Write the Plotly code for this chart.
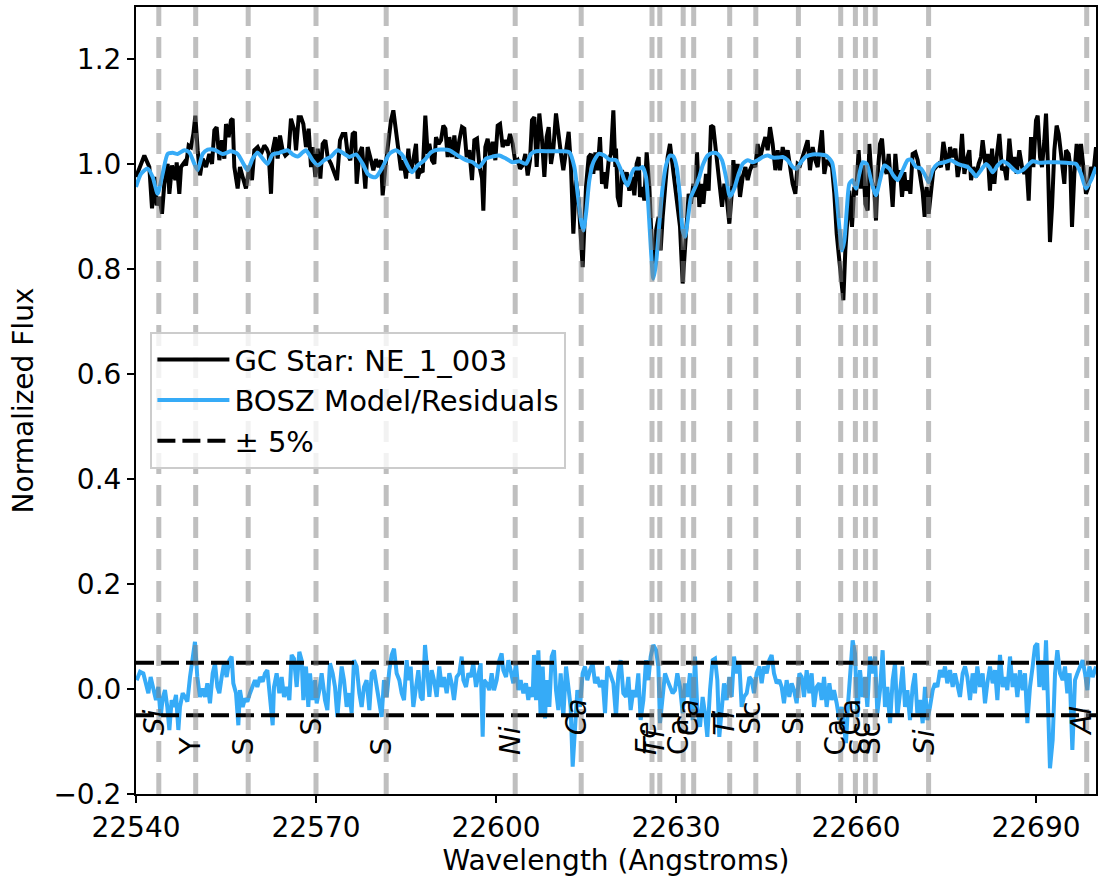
import plotly.graph_objects as go

# ---------------- data ----------------
star_wave = [
    22540.00, 22541.39, 22542.22, 22542.67, 22543.06, 22543.44, 22543.89, 22544.33, 22544.72, 22545.28,
    22545.56, 22546.00, 22546.56, 22546.78, 22547.22, 22547.50, 22548.06, 22548.33, 22548.78, 22549.17,
    22549.56, 22549.89, 22550.28, 22550.67, 22551.11, 22551.67, 22552.22, 22552.67, 22553.06, 22553.44,
    22553.89, 22554.33, 22554.72, 22555.00, 22555.44, 22555.83, 22556.11, 22556.39, 22556.94, 22557.33,
    22557.78, 22558.33, 22558.89, 22559.33, 22559.72, 22560.28, 22560.83, 22561.39, 22561.78, 22562.11,
    22562.50, 22562.78, 22563.22, 22563.61, 22564.00, 22564.44, 22564.89, 22565.44, 22565.83, 22566.39,
    22566.67, 22567.11, 22567.50, 22567.89, 22568.33, 22568.78, 22569.17, 22569.44, 22569.89, 22570.28,
    22570.72, 22571.11, 22571.56, 22571.94, 22572.50, 22573.06, 22573.50, 22574.00, 22574.44, 22574.89,
    22575.28, 22575.72, 22576.11, 22576.50, 22576.78, 22577.22, 22577.67, 22578.22, 22578.61, 22579.17,
    22579.56,
    22580.00, 22580.44, 22580.83, 22581.11, 22581.56, 22582.11, 22582.50, 22582.89, 22583.33, 22583.78,
    22584.17, 22584.56, 22585.00, 22585.39, 22585.72, 22586.11, 22586.39, 22586.67, 22586.94, 22587.33,
    22587.78, 22588.22, 22588.61, 22588.89, 22589.33, 22589.72, 22590.00, 22590.44, 22590.83, 22591.22,
    22591.56, 22591.94, 22592.22, 22592.67, 22593.06, 22593.44, 22593.89, 22594.33, 22594.72, 22595.11,
    22595.56, 22596.00, 22596.39, 22596.83, 22597.22, 22597.67, 22597.89, 22598.22, 22598.61, 22599.00,
    22599.44, 22599.89, 22600.28, 22600.67, 22601.11, 22601.56, 22601.94, 22602.33, 22602.78, 22603.22,
    22603.61, 22604.00, 22604.44, 22604.89, 22605.28, 22605.67, 22606.00, 22606.39, 22606.78, 22607.22,
    22607.67, 22608.06, 22608.44, 22608.78, 22609.17, 22609.56, 22610.00, 22610.44, 22610.83, 22611.22,
    22611.67, 22612.11, 22612.50, 22612.89, 22613.33, 22613.78, 22614.17, 22614.44, 22614.72, 22615.00,
    22615.44, 22615.83, 22616.22, 22616.56, 22616.94, 22617.33, 22617.67, 22618.06, 22618.33, 22618.78,
    22619.17, 22619.56, 22619.89,
    22620.00, 22620.28, 22620.67, 22621.00, 22621.39, 22621.78, 22622.22, 22622.67, 22623.06, 22623.44,
    22623.78, 22624.00, 22624.44, 22624.72, 22625.11, 22625.56, 22625.83, 22626.11, 22626.39, 22626.67,
    22627.11, 22627.44, 22627.78, 22628.22, 22628.61, 22629.00, 22629.44, 22629.89, 22630.28, 22630.67,
    22631.11, 22631.39, 22631.78, 22632.11, 22632.50, 22632.89, 22633.22, 22633.50, 22633.89, 22634.33,
    22634.56, 22635.00, 22635.44, 22635.83, 22636.22, 22636.56, 22636.94, 22637.33, 22637.67, 22638.06,
    22638.44, 22638.89, 22639.33, 22639.56, 22639.89, 22640.28, 22640.67, 22641.11, 22641.56, 22641.94,
    22642.33, 22642.78, 22643.22, 22643.61, 22644.00, 22644.44, 22644.89, 22645.28, 22645.67, 22646.11,
    22646.56, 22646.94, 22647.33, 22647.78, 22648.22, 22648.61, 22649.00, 22649.44, 22649.89, 22650.28,
    22650.67, 22651.11, 22651.56, 22651.94, 22652.33, 22652.78, 22653.22, 22653.61, 22654.00, 22654.33,
    22654.72, 22655.11, 22655.56, 22656.00, 22656.39, 22656.78, 22657.22, 22657.56, 22657.89, 22658.22,
    22658.61, 22658.89, 22659.33, 22659.72,
    22660.00, 22660.44, 22660.83, 22661.22, 22661.56, 22661.94, 22662.22, 22662.61, 22663.06, 22663.33,
    22663.61, 22664.00, 22664.33, 22664.72, 22665.11, 22665.44, 22665.83, 22666.11, 22666.56, 22666.94,
    22667.33, 22667.67, 22668.06, 22668.33, 22668.78, 22669.06, 22669.44, 22669.89, 22670.28, 22670.67,
    22671.11, 22671.44, 22671.78, 22672.11, 22672.50, 22672.89, 22673.33, 22673.78, 22674.17, 22674.56,
    22674.89, 22675.28, 22675.67, 22676.11, 22676.56, 22676.94, 22677.33, 22677.67, 22678.06, 22678.44,
    22678.89, 22679.17, 22679.56, 22680.00, 22680.44, 22680.83, 22681.11, 22681.56, 22681.94, 22682.33,
    22682.67, 22683.06, 22683.44, 22683.89, 22684.33, 22684.72, 22685.11, 22685.56, 22686.00, 22686.39,
    22686.78, 22687.22, 22687.67, 22688.06, 22688.44, 22688.78, 22689.17, 22689.56, 22690.00, 22690.28,
    22690.67, 22691.00, 22691.39, 22691.67, 22692.00, 22692.33, 22692.67, 22693.06, 22693.44, 22693.78,
    22694.17, 22694.44, 22694.72, 22695.00, 22695.44, 22695.72, 22696.00, 22696.39, 22696.78, 22697.11,
    22697.50, 22697.89, 22698.33, 22698.72, 22699.17, 22699.56, 22700.00,
]
star_flux = [
    0.976, 1.017, 0.995, 0.916, 0.976, 0.922, 0.938, 0.906, 0.963, 1.001,
    0.944, 0.998, 0.970, 1.004, 0.944, 0.995, 1.004, 0.998, 1.036, 1.033,
    1.058, 1.093, 1.027, 0.979, 1.011, 0.995, 1.020, 1.001, 1.065, 1.071,
    1.008, 1.046, 1.011, 1.077, 1.052, 1.084, 1.087, 0.995, 0.954, 0.995,
    0.976, 0.954, 0.995, 0.970, 1.027, 1.033, 1.020, 1.036, 1.030, 1.020,
    0.944, 1.027, 1.052, 1.011, 1.055, 1.027, 1.017, 1.023, 1.087, 1.065,
    1.027, 1.090, 1.090, 1.077, 1.033, 1.068, 0.995, 1.033, 0.976, 1.030,
    0.973, 1.039, 1.046, 1.014, 1.001, 0.982, 0.970, 1.046, 1.058, 1.058,
    1.020, 1.008, 1.058, 1.062, 0.963, 1.020, 1.033, 0.954, 1.033, 1.008,
    0.989,
    1.010, 0.995, 1.008, 0.941, 0.995, 1.046, 1.084, 1.103, 1.058, 1.027,
    0.989, 1.008, 0.973, 1.030, 0.985, 1.001, 1.020, 1.039, 0.973, 0.989,
    0.985, 1.093, 1.020, 1.039, 1.008, 1.001, 1.052, 1.039, 1.046, 1.074,
    1.068, 1.014, 1.052, 1.014, 1.055, 1.011, 1.046, 1.071, 1.068, 1.014,
    1.027, 0.970, 1.046, 1.049, 0.998, 0.973, 0.912, 1.033, 1.049, 1.014,
    1.043, 1.008, 1.074, 1.077, 1.033, 1.046, 1.036, 1.058, 1.039, 1.004,
    1.008, 0.992, 0.998, 1.020, 0.979, 1.008, 1.084, 1.090, 0.995, 1.097,
    1.046, 0.976, 1.052, 1.071, 1.001, 1.030, 1.097, 1.046, 1.020, 0.989,
    1.027, 1.062, 0.995, 0.868, 0.970, 0.931, 0.855, 0.804, 0.881, 0.957,
    1.014, 1.020, 0.982, 1.023, 0.989, 1.052, 0.963, 0.985, 0.954, 1.008,
    1.020, 1.103, 0.995,
    1.030, 0.938, 0.919, 0.989, 0.963, 0.985, 0.950, 0.976, 0.941, 1.001,
    1.014, 0.938, 0.957, 0.931, 1.023, 0.957, 0.855, 0.804, 0.823, 0.874,
    0.900, 0.836, 0.900, 0.970, 1.014, 1.039, 0.995, 0.957, 0.925, 0.881,
    0.773, 0.823, 0.874, 0.944, 0.925, 0.963, 0.938, 1.023, 0.919, 0.963,
    0.925, 0.982, 0.950, 1.074, 1.071, 1.039, 0.995, 0.963, 0.919, 0.963,
    0.938, 0.887, 0.950, 1.008, 0.963, 1.001, 0.938, 0.976, 0.995, 0.970,
    0.989, 1.001, 0.995, 1.039, 1.011, 1.033, 1.052, 1.027, 1.071, 1.039,
    0.989, 1.027, 0.989, 1.033, 1.011, 1.027, 0.995, 0.963, 0.944, 1.001,
    0.998, 1.014, 1.027, 1.046, 0.989, 1.033, 1.008, 0.995, 1.033, 1.065,
    0.982, 1.008, 1.001, 0.995, 0.944, 0.868, 0.817, 0.766, 0.741, 0.836,
    0.912, 0.950, 0.881, 0.957,
    0.941, 1.027, 0.954, 0.998, 0.925, 0.912, 1.039, 0.970, 0.950, 0.893,
    0.982, 1.039, 1.049, 0.995, 0.982, 1.020, 0.963, 0.919, 1.020, 0.970,
    0.989, 0.938, 0.985, 0.950, 0.970, 0.944, 1.020, 1.023, 1.008, 0.982,
    0.947, 0.900, 0.957, 0.906, 0.954, 0.989, 0.995, 1.001, 0.995, 1.043,
    1.020, 0.989, 1.033, 1.014, 1.030, 0.976, 1.001, 1.058, 0.982, 1.008,
    1.027, 0.970, 0.995, 0.976, 1.001, 1.014, 1.046, 1.001, 1.020, 0.950,
    1.030, 0.963, 1.014, 1.058, 0.989, 0.995, 0.970, 1.049, 0.995, 1.014,
    0.982, 1.027, 0.995, 0.982, 0.995, 0.931, 1.052, 0.995, 1.084, 1.093,
    1.014, 0.995, 1.046, 1.097, 0.995, 0.852, 0.919, 1.027, 1.074, 1.058,
    1.020, 0.995, 0.963, 1.027, 1.020, 0.995, 0.881, 0.982, 1.039, 0.995,
    1.039, 0.995, 0.944, 0.957, 0.995, 0.982, 1.033,
]

model_wave = [
    22540.00, 22540.83, 22541.94, 22542.78, 22543.61, 22544.44, 22545.28, 22546.11, 22546.94, 22548.06,
    22548.89, 22549.72, 22550.28, 22551.11, 22551.94, 22553.06, 22554.44, 22555.83, 22556.94, 22558.06,
    22558.61, 22559.44, 22560.28, 22561.11, 22561.94, 22562.78, 22563.89, 22565.28, 22566.11, 22566.94,
    22567.78, 22568.33, 22569.44, 22570.28, 22571.39, 22572.50, 22573.61, 22574.72, 22575.56, 22576.67,
    22577.78, 22578.61, 22579.44,
    22580.00, 22581.11, 22582.22, 22583.33, 22584.44, 22585.28, 22586.00, 22586.94, 22588.06, 22589.17,
    22590.28, 22592.22, 22593.61, 22595.00, 22596.11, 22597.22, 22598.33, 22599.44, 22600.56, 22601.67,
    22602.78, 22603.89, 22605.00, 22605.83, 22606.67, 22608.89, 22611.11, 22612.22, 22613.06, 22613.61,
    22614.17, 22614.56, 22615.00, 22615.56, 22616.22, 22617.11, 22618.06, 22618.89,
    22620.00, 22620.83, 22621.39, 22621.94, 22622.50, 22623.06, 22623.89, 22624.44, 22625.00, 22625.44,
    22625.83, 22626.22, 22626.67, 22627.22, 22627.78, 22628.33, 22629.00, 22629.56, 22630.11, 22630.67,
    22631.11, 22631.50, 22631.94, 22632.50, 22633.22, 22633.89, 22634.44, 22635.28, 22636.11, 22636.94,
    22637.67, 22638.33, 22639.00, 22639.72, 22640.44, 22641.11, 22641.94, 22642.78, 22643.61, 22644.44,
    22645.28, 22646.11, 22646.94, 22647.78, 22648.61, 22649.44, 22650.11, 22650.83, 22651.67, 22652.78,
    22653.89, 22655.00, 22656.00, 22656.67, 22657.22, 22657.67, 22658.06, 22658.50, 22658.89, 22659.44,
    22660.00, 22660.56, 22661.11, 22661.78, 22662.50, 22663.33, 22664.00, 22664.72, 22665.56, 22666.22,
    22666.94, 22667.78, 22668.61, 22669.17, 22670.00, 22670.83, 22671.67, 22672.11, 22672.78, 22673.61,
    22674.72, 22675.83, 22676.94, 22677.78, 22678.61, 22679.44, 22680.00, 22680.83, 22681.67, 22682.22,
    22682.78, 22683.61, 22684.44, 22685.28, 22686.11, 22686.94, 22687.78, 22688.61, 22689.44, 22690.56,
    22691.94, 22693.33, 22695.00, 22696.67, 22697.50, 22698.33, 22699.17, 22700.00,
]
model_flux = [
    0.957, 0.982, 0.992, 0.976, 0.944, 0.982, 1.020, 1.022, 1.020, 1.027,
    1.023, 1.001, 0.989, 1.020, 1.028, 1.028, 1.020, 1.025, 1.020, 0.998,
    0.989, 1.011, 1.022, 1.011, 1.001, 1.019, 1.022, 1.027, 1.019, 1.015,
    1.023, 1.027, 1.008, 0.998, 1.008, 1.015, 1.027, 1.020, 1.014, 1.019,
    1.001, 0.982, 0.976,
    0.976, 0.995, 1.020, 1.027, 1.017, 0.998, 0.985, 0.998, 1.008, 1.023,
    1.028, 1.027, 1.017, 1.008, 1.004, 0.995, 1.011, 1.015, 1.017, 1.011,
    1.004, 1.006, 1.001, 1.020, 1.025, 1.025, 1.025, 1.023, 0.995, 0.944,
    0.893, 0.874, 0.906, 0.970, 1.004, 1.020, 1.017, 1.009,
    1.008, 0.989, 0.970, 0.960, 0.979, 0.992, 0.992, 0.995, 0.976, 0.912,
    0.836, 0.782, 0.811, 0.887, 0.957, 0.998, 1.017, 1.015, 0.995, 0.938,
    0.874, 0.862, 0.893, 0.938, 0.957, 0.976, 0.998, 1.017, 1.022, 1.020,
    1.008, 0.976, 0.938, 0.954, 0.982, 1.001, 1.008, 1.004, 1.008, 1.014,
    1.017, 1.013, 1.013, 1.014, 1.008, 0.995, 0.992, 1.004, 1.015, 1.019,
    1.019, 1.017, 1.004, 0.950, 0.881, 0.836, 0.855, 0.919, 0.963, 0.970,
    0.954, 0.982, 1.004, 1.001, 0.970, 0.941, 0.970, 0.998, 0.992, 0.979,
    0.970, 0.989, 1.008, 1.009, 0.995, 0.992, 0.976, 0.966, 0.989, 1.001,
    1.004, 1.008, 1.001, 0.998, 0.995, 0.985, 0.977, 0.989, 1.001, 0.995,
    0.985, 0.998, 1.006, 1.001, 0.992, 0.985, 0.989, 0.998, 1.006, 1.003,
    1.004, 1.004, 1.003, 1.001, 0.982, 0.954, 0.970, 0.995,
]

resid_wave = [
    22540.11, 22540.67, 22541.22, 22541.78, 22542.06, 22542.44, 22542.89, 22543.33, 22543.72, 22544.11,
    22544.44, 22544.83, 22545.22, 22545.56, 22545.94, 22546.22, 22546.67, 22547.06, 22547.33, 22547.78,
    22548.17, 22548.56, 22549.00, 22549.44, 22549.83, 22550.22, 22550.67, 22551.11, 22551.50, 22551.89,
    22552.33, 22552.78, 22553.17, 22553.56, 22553.89, 22554.28, 22554.67, 22555.11, 22555.56, 22555.94,
    22556.22, 22556.67, 22557.06, 22557.33, 22557.78, 22558.17, 22558.56, 22559.00, 22559.44, 22559.83,
    22560.22, 22560.67, 22561.11, 22561.50, 22561.89, 22562.33, 22562.78, 22563.00, 22563.44, 22563.89,
    22564.28, 22564.67, 22565.11, 22565.56, 22565.94, 22566.33, 22566.78, 22567.22, 22567.61, 22567.89,
    22568.33, 22568.72, 22569.00, 22569.44, 22569.83, 22570.11, 22570.56, 22570.94, 22571.50, 22571.89,
    22572.33, 22572.78, 22573.17, 22573.56, 22573.89, 22574.28, 22574.67, 22575.11, 22575.56, 22575.94,
    22576.33, 22576.78, 22577.22, 22577.61, 22578.00, 22578.44, 22578.89, 22579.28, 22579.67, 22580.11,
    22580.56, 22580.94, 22581.33, 22581.78, 22582.22, 22582.61, 22583.00, 22583.44, 22583.89, 22584.28,
    22584.67, 22585.11, 22585.39, 22585.78, 22586.22, 22586.67, 22587.06, 22587.44, 22587.78, 22588.17,
    22588.56, 22588.89, 22589.28, 22589.67, 22590.11, 22590.56, 22590.94, 22591.33, 22591.78, 22592.22,
    22592.61, 22593.00, 22593.44, 22593.89, 22594.28, 22594.56, 22595.00, 22595.39, 22595.78, 22596.22,
    22596.67, 22597.06, 22597.44, 22597.78, 22598.00, 22598.44, 22598.89, 22599.28, 22599.67, 22600.11,
    22600.56, 22600.94, 22601.22, 22601.67, 22602.06, 22602.44, 22602.89, 22603.33, 22603.72, 22604.11,
    22604.56, 22605.00, 22605.39, 22605.67, 22606.11, 22606.33, 22606.67, 22607.06, 22607.44, 22607.78,
    22608.17, 22608.44, 22608.89, 22609.28, 22609.67, 22610.00, 22610.39, 22610.78, 22611.22, 22611.67,
    22612.06, 22612.44, 22612.78, 22613.17, 22613.56, 22614.00, 22614.44, 22614.83, 22615.22, 22615.67,
    22616.11, 22616.50, 22616.89, 22617.33, 22617.78, 22618.17, 22618.56, 22619.00,
    22619.56, 22620.00, 22620.39, 22620.78, 22621.22, 22621.67, 22622.06, 22622.44, 22622.89, 22623.33,
    22623.72, 22624.11, 22624.56, 22625.00, 22625.39, 22625.78, 22626.22, 22626.67, 22627.06, 22627.33,
    22627.78, 22628.17, 22628.56, 22629.00, 22629.44, 22629.83, 22630.22, 22630.67, 22631.11, 22631.50,
    22631.89, 22632.33, 22632.78, 22633.17, 22633.56, 22634.00, 22634.44, 22634.83, 22635.22, 22635.67,
    22636.11, 22636.50, 22636.89, 22637.22, 22637.61, 22638.00, 22638.44, 22638.89, 22639.28, 22639.67,
    22640.11, 22640.56, 22640.94, 22641.33, 22641.78, 22642.22, 22642.61, 22643.00, 22643.44, 22643.89,
    22644.28, 22644.67, 22645.11, 22645.56, 22645.94, 22646.33, 22646.78, 22647.22, 22647.61, 22648.00,
    22648.44, 22648.89, 22649.28, 22649.67, 22650.11, 22650.56, 22650.94, 22651.33, 22651.78, 22652.22,
    22652.61, 22653.00, 22653.44, 22653.89, 22654.28, 22654.67, 22655.11, 22655.56, 22655.94, 22656.33,
    22656.78, 22657.22, 22657.61, 22658.00, 22658.33, 22658.72, 22659.11, 22659.44, 22659.83, 22660.22,
    22660.67, 22661.11, 22661.50, 22661.89, 22662.33, 22662.78, 22663.17, 22663.56, 22664.00, 22664.44,
    22664.83, 22665.22, 22665.67, 22666.11, 22666.50, 22666.89, 22667.33, 22667.78, 22668.17, 22668.56,
    22669.00, 22669.44, 22669.83, 22670.22, 22670.67, 22671.11, 22671.50, 22671.89, 22672.33, 22672.78,
    22673.17, 22673.56, 22674.00, 22674.44, 22674.83, 22675.22, 22675.67, 22676.11, 22676.50, 22676.89,
    22677.33, 22677.78, 22678.17, 22678.56, 22679.00, 22679.44, 22679.83, 22680.22, 22680.67, 22681.11,
    22681.50, 22681.89, 22682.33, 22682.78, 22683.17, 22683.56, 22684.00, 22684.44, 22684.83, 22685.22,
    22685.67, 22686.11, 22686.50, 22686.89, 22687.33, 22687.78, 22688.17, 22688.56, 22689.00, 22689.44,
    22689.83, 22690.22, 22690.56, 22690.94, 22691.33, 22691.67, 22692.06, 22692.33, 22692.78, 22693.17,
    22693.56, 22694.00, 22694.44, 22694.83, 22695.22, 22695.61, 22696.06, 22696.50, 22696.89, 22697.33,
    22697.78, 22698.17, 22698.56, 22698.89, 22699.44, 22699.83, 22700.00,
]
resid_vals = [
    0.017, 0.033, 0.030, 0.004, -0.008, 0.023, -0.002, -0.021, 0.004, -0.053,
    -0.018, -0.002, -0.034, -0.078, -0.021, -0.034, -0.011, -0.078, -0.034, -0.008,
    -0.015, -0.024, 0.023, 0.055, 0.090, 0.023, -0.015, 0.001, -0.015, 0.011,
    -0.027, 0.030, 0.049, 0.004, -0.008, 0.023, 0.049, 0.023, 0.055, 0.062,
    0.011, -0.008, -0.069, -0.002, -0.034, -0.018, -0.024, -0.008, 0.004, 0.017,
    0.004, 0.023, 0.014, 0.030, 0.036, -0.008, -0.069, 0.004, 0.030, -0.008,
    0.023, -0.015, 0.004, -0.021, 0.065, 0.058, 0.004, 0.071, 0.055, -0.021,
    0.043, -0.034, 0.030, -0.021, 0.017, -0.027, -0.002, 0.030, -0.021, -0.040,
    0.049, 0.030, 0.004, -0.053, -0.002, 0.043, 0.017, -0.034, -0.008, -0.046,
    0.055, 0.043, -0.008, -0.034, 0.004, 0.017, -0.040, 0.030, 0.036, 0.004,
    -0.034, -0.053, 0.017, -0.015, 0.036, 0.065, 0.077, 0.030, 0.017, -0.008,
    -0.021, 0.055, 0.017, 0.043, -0.034, 0.004, 0.036, -0.015, -0.021, 0.084,
    0.030, -0.015, 0.036, 0.017, -0.015, 0.043, 0.004, 0.023, -0.008, 0.030,
    0.011, -0.021, 0.023, 0.030, 0.062, 0.017, 0.004, 0.030, 0.023, 0.049,
    0.004, 0.030, 0.049, -0.091, 0.017, 0.011, -0.002, 0.030, -0.002, 0.017,
    0.055, 0.068, 0.036, 0.023, 0.055, 0.036, 0.011, 0.049, -0.002, 0.017,
    -0.008, 0.011, -0.021, 0.004, -0.015, 0.065, -0.021, 0.074, -0.053, 0.043,
    -0.056, 0.017, -0.034, 0.062, 0.074, -0.002, -0.040, 0.030, -0.053, 0.043,
    -0.002, -0.034, -0.148, -0.065, -0.002, -0.034, 0.030, 0.043, 0.017, 0.036,
    0.049, 0.011, 0.023, 0.004, 0.017, -0.046, 0.043, 0.030,
    0.011, -0.053, 0.030, 0.055, -0.008, -0.015, 0.023, -0.040, -0.002, -0.015,
    0.030, -0.059, -0.021, 0.055, 0.017, 0.062, 0.084, 0.074, 0.043, -0.065,
    -0.021, 0.030, 0.017, 0.004, -0.008, -0.002, 0.030, 0.004, -0.046, 0.011,
    -0.015, 0.030, -0.059, 0.062, -0.040, -0.072, -0.015, -0.046, -0.091, -0.002,
    0.055, 0.058, 0.017, -0.091, -0.034, 0.011, -0.021, 0.023, -0.015, 0.062,
    0.030, 0.049, -0.034, -0.015, -0.008, 0.023, 0.017, -0.008, 0.030, 0.043,
    0.011, 0.043, 0.030, 0.055, 0.065, 0.030, 0.011, 0.017, 0.004, -0.027,
    0.017, -0.015, 0.011, -0.002, -0.027, 0.030, 0.023, -0.015, 0.036, -0.008,
    0.030, -0.034, 0.004, 0.011, -0.021, 0.023, -0.034, 0.011, -0.021, -0.002,
    -0.027, -0.059, -0.034, -0.078, -0.103, -0.021, 0.055, 0.093, 0.068, -0.053,
    0.036, -0.015, 0.023, -0.034, 0.062, 0.030, 0.062, -0.046, -0.002, 0.074,
    -0.034, 0.004, -0.065, 0.017, 0.049, -0.053, -0.008, 0.043, -0.034, -0.002,
    -0.059, 0.004, 0.030, -0.046, -0.021, -0.065, 0.004, -0.059, -0.034, -0.002,
    0.011, 0.004, 0.036, 0.023, 0.043, 0.011, 0.036, 0.004, 0.030, 0.011,
    -0.015, 0.030, 0.043, 0.023, -0.021, 0.030, -0.008, 0.043, 0.004, 0.030,
    -0.027, 0.011, 0.043, 0.011, 0.036, -0.021, 0.065, 0.004, 0.023, -0.002,
    0.062, 0.004, 0.030, -0.015, 0.036, -0.002, 0.030, -0.065, 0.004, 0.043,
    0.081, 0.087, 0.004, 0.055, -0.002, 0.093, -0.084, -0.151, -0.097, 0.030,
    0.074, 0.030, 0.017, 0.043, -0.008, 0.030, -0.116, 0.017, 0.030, 0.043,
    0.055, 0.030, -0.002, 0.043, 0.023, 0.036, 0.043,
]

band_limits = [0.05, -0.05]

line_waves = [22543.8, 22549.95, 22558.7, 22570.0, 22581.7, 22603.2, 22614.2, 22626.0, 22627.3, 22631.2,
              22632.95, 22638.95, 22643.3, 22650.4, 22657.45, 22659.9, 22661.6, 22663.2, 22672.1, 22698.45]
line_labels = ["Si", "Y", "S", "S", "S", "Ni", "Ca", "Fe", "Ti", "Ca",
               "Ca", "Ti", "Sc", "S", "Ca", "Ca", "Sc", "Sc", "Si", "Al"]
line_italic = [True, False, False, False, False, True, True, True, True, False,
               True, True, False, False, False, False, False, False, True, True]
line_upper = [True, False, False, True, False, False, True, False, False, False,
              True, True, True, True, False, True, False, False, False, True]

x_ticks = [22540, 22570, 22600, 22630, 22660, 22690]
x_ticktext = ["22540", "22570", "22600", "22630", "22660", "22690"]
y_ticks = [-0.2, 0.0, 0.2, 0.4, 0.6, 0.8, 1.0, 1.2]
y_ticktext = ["\u22120.2", "0.0", "0.2", "0.4", "0.6", "0.8", "1.0", "1.2"]

# ---------------- figure ----------------
FONT = "DejaVu Sans"
BLUE = "#36abf7"

fig = go.Figure()

fig.add_trace(go.Scatter(x=star_wave, y=star_flux, mode="lines", name="GC Star: NE_1_003",
                         line=dict(color="black", width=4)))
fig.add_trace(go.Scatter(x=model_wave, y=model_flux, mode="lines", name="BOSZ Model/Residuals",
                         line=dict(color=BLUE, width=4, shape="spline", smoothing=0.6)))
fig.add_trace(go.Scatter(x=resid_wave, y=resid_vals, mode="lines", name="residuals", showlegend=False,
                         line=dict(color=BLUE, width=4)))
for i, lim in enumerate(band_limits):
    fig.add_trace(go.Scatter(x=[22540, 22700], y=[lim, lim], mode="lines", name="\u00b1 5%",
                             showlegend=(i == 0), legendgroup="band",
                             line=dict(color="black", width=4, dash="18px,7px")))

for w in line_waves:
    fig.add_shape(type="line", xref="x", yref="paper", x0=w, x1=w, y0=0, y1=1,
                  line=dict(color="rgba(128,128,128,0.5)", width=5, dash="21px,11px"), layer="above")

for w, lab, it, up in zip(line_waves, line_labels, line_italic, line_upper):
    txt = f"<i>{lab}</i>" if it else lab
    fig.add_annotation(x=w - 0.8, y=(-0.09 if up else -0.128), xref="x", yref="y", text=txt,
                       textangle=-90, showarrow=False, xanchor="center", yanchor="bottom",
                       font=dict(family=FONT, size=28, color="black"), borderpad=0)

axis_common = dict(showline=True, linewidth=2, linecolor="black", mirror=True, ticks="outside",
                   ticklen=7, tickwidth=2, tickcolor="black", showgrid=False, zeroline=False,
                   tickfont=dict(family=FONT, size=28, color="black"))

fig.update_xaxes(range=[22540, 22700], tickvals=x_ticks, ticktext=x_ticktext,
                 title=dict(text="Wavelength (Angstroms)", font=dict(family=FONT, size=28), standoff=2),
                 **axis_common)
fig.update_yaxes(range=[-0.2, 1.3], tickvals=y_ticks, ticktext=y_ticktext,
                 title=dict(text="Normalized Flux", font=dict(family=FONT, size=28), standoff=12),
                 **axis_common)

fig.update_layout(
    width=1099, height=884,
    margin=dict(l=136, r=3, t=7, b=90, autoexpand=False),
    plot_bgcolor="white", paper_bgcolor="white",
    font=dict(family=FONT, size=28, color="black"),
    legend=dict(x=0.015, y=0.587, xanchor="left", yanchor="top",
                bgcolor="rgba(255,255,255,0.8)", bordercolor="#cccccc", borderwidth=2,
                font=dict(family=FONT, size=29, color="black"), itemwidth=72,
                tracegroupgap=0),
)

fig.write_html("out.html")
